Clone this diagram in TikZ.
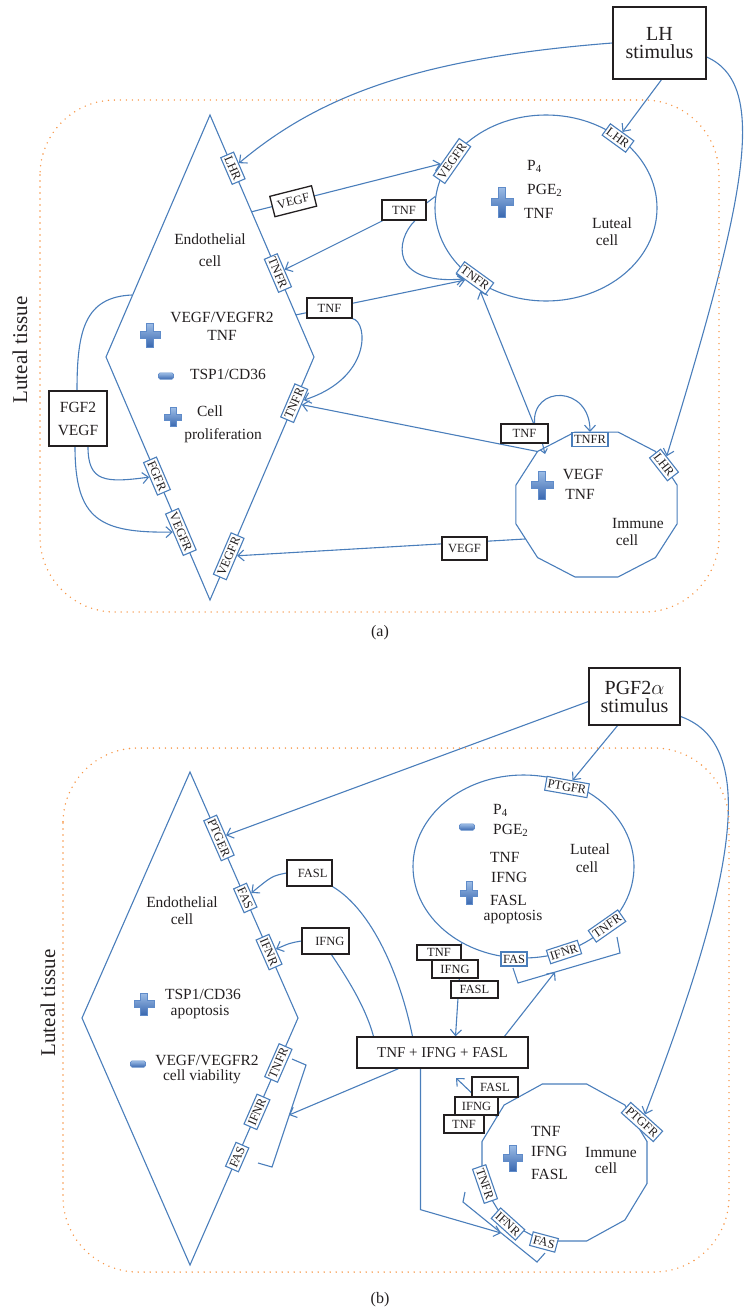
\documentclass[tikz,border=0pt]{standalone}
\usepackage{fontspec}
\setmainfont{Liberation Serif}
\usetikzlibrary{arrows.meta,shapes.geometric}
\pgfdeclarelayer{bg}
\pgfsetlayers{bg,main}
\definecolor{lblue}{HTML}{4A7EBB}
\definecolor{dotor}{HTML}{F79646}
\definecolor{sgtop}{HTML}{9DBDE6}
\definecolor{sgbot}{HTML}{3A68B0}
\definecolor{sgedge}{HTML}{5F8BC9}
\definecolor{ink}{HTML}{231F20}
\newcommand\recf{\fontsize{12.5}{13}\selectfont}
\newcommand\sigf{\fontsize{12.5}{14}\selectfont}
\newcommand\cellf{\fontsize{15.5}{18}\selectfont}
\newcommand\stimf{\fontsize{20}{18}\selectfont}
\newcommand\tissf{\fontsize{21}{22}\selectfont}
\tikzset{
  cellline/.style={draw=lblue, line width=1.1pt},
  conn/.style={draw=lblue, line width=1.1pt},
  arr/.style={conn, -{Straight Barb[length=6pt,width=11pt]}},
  rec/.style={draw=lblue, fill=white, line width=1.1pt, font=\recf, text=ink, inner xsep=2pt, inner ysep=1pt, minimum height=14pt},
  sig/.style={draw=ink, fill=white, line width=1.3pt, font=\sigf, text=ink, inner xsep=4pt, inner ysep=0pt},
  txt/.style={font=\cellf, text=ink, inner sep=0pt, text height=1.5ex, text depth=0.3ex},
  tisstxt/.style={font=\tissf, text=ink, rotate=90},
  tissue/.style={dotor, line width=1.6pt, line cap=round, dash pattern=on 0pt off 6pt, rounded corners=75pt},
  pics/pluspic/.style args={#1/#2}{code={
    \pgfmathsetmacro\plw{#1/2}\pgfmathsetmacro\plh{#2/2}\pgfmathsetmacro\plt{#1*0.17}
    \shadedraw[top color=sgtop, bottom color=sgbot, draw=sgedge, line width=0.6pt]
      (-\plt,-\plh) -- (\plt,-\plh) -- (\plt,-\plt) -- (\plw,-\plt) -- (\plw,\plt) -- (\plt,\plt) -- (\plt,\plh) -- (-\plt,\plh) -- (-\plt,\plt) -- (-\plw,\plt) -- (-\plw,-\plt) -- (-\plt,-\plt) -- cycle;
  }},
  pics/minuspic/.style={code={
    \shadedraw[top color=sgtop, bottom color=sgbot, draw=sgedge, line width=0.6pt, rounded corners=1.5pt] (-7.5,-3.2) rectangle (7.5,3.2);
  }},
}
\begin{document}
\begin{tikzpicture}[x=1pt,y=-1pt]
\path[use as bounding box] (0,0) rectangle (747,1314);

%%%%%%%%%%%%%%%% PANEL (a)
\draw[tissue] (40,100) rectangle (719,612);
\node[tisstxt] (atiss) at (20,350) {Luteal tissue};

% endothelial cell
\coordinate (aeT) at (210,115);
\coordinate (aeR) at (314,357);
\coordinate (aeB) at (210,600);
\coordinate (aeL) at (106,357);
\coordinate (aeFs) at (132,295);
\draw[cellline] (aeT) -- (aeR)
  coordinate[pos=0.40] (aeVs) coordinate[pos=0.826] (aeTs)
  node[rec,sloped,pos=0.22] (aeLHR) {LHR}
  node[rec,sloped,pos=0.653] (aeTNFR1) {TNFR}
  -- (aeB)
  node[rec,sloped,pos=0.19] (aeTNFR2) {TNFR}
  node[rec,sloped,pos=0.82] (aeVEGFR2) {VEGFR}
  -- (aeL)
  node[rec,sloped,pos=0.51] (aeFGFR) {FGFR}
  node[rec,sloped,pos=0.28] (aeVEGFR1) {VEGFR}
  -- cycle;
\node[txt] (aeN1) at (210,242) {Endothelial};
\node[txt] (aeN2) at (210,264) {cell};
\pic at (150,335) {pluspic=20/24};
\node[txt] (aeP1) at (222,320) {VEGF/VEGFR2};
\node[txt] (aeP2) at (222,338) {TNF};
\pic at (166,376) {minuspic};
\node[txt] (aeM1) at (228,377) {TSP1/CD36};
\pic at (173,417) {pluspic=17/19};
\node[txt] (aeC1) at (210,414) {Cell};
\node[txt] (aeC2) at (223,437) {proliferation};

% luteal cell
\node[ellipse, cellline, minimum width=222pt, minimum height=186pt, inner sep=0pt] (alut) at (546,208) {};
\node[rec,rotate=55] (alVEGFR) at (452,161) {VEGFR};
\node[rec,rotate=-36] (alLHR) at (618,138) {LHR};
\node[rec,rotate=-36] (alTNFR) at (475,278) {TNFR};
\pic at (502,202) {pluspic=22/30};
\node[txt, anchor=west] (alP4) at (527,168) {P\textsubscript{4}};
\node[txt, anchor=west] (alPG) at (527,192) {PGE\textsubscript{2}};
\node[txt, anchor=west] (alTN) at (524,216) {TNF};
\node[txt] (alN1) at (612,226) {Luteal};
\node[txt] (alN2) at (607,243) {cell};

% immune cell
\draw[cellline] (596.5,504.5) +(-15:83.4 and 75) \foreach \a in {45,75,...,345}{ -- +(-\a:83.4 and 75)} -- cycle;
\coordinate (aiC) at (537.5,451.5);
\coordinate (aiVs) at (525,539);
\coordinate (aiTip) at (545,454);
\node[rec] (aiTNFR) at (590,439.5) {TNFR};
\node[rec,rotate=-52] (aiLHR) at (664,465) {LHR};
\pic at (542,485) {pluspic=22/28};
\node[txt] (aiV) at (583,477) {VEGF};
\node[txt] (aiT) at (580,497) {TNF};
\node[txt] (aiN1) at (638,526) {Immune};
\node[txt] (aiN2) at (627,543) {cell};

% signal boxes
\node[sig, minimum width=93pt, minimum height=72pt, font=\stimf, align=center] (alh) at (659.5,43) {LH\\stimulus};
\node[sig, minimum width=44pt, minimum height=20pt] (atnf1) at (404,210) {TNF};
\node[sig, minimum width=45pt, minimum height=20pt] (atnf2) at (329.5,308) {TNF};
\node[sig, minimum width=47pt, minimum height=19pt] (atnf3) at (524.5,433.5) {TNF};
\node[sig, minimum width=45pt, minimum height=23pt] (avegf2) at (464.5,548.5) {VEGF};
\node[sig, minimum width=58pt, minimum height=55pt, align=center, font=\cellf] (afgf) at (78,418.5) {FGF2\\[5pt]VEGF};

\begin{pgfonlayer}{bg}
\draw[arr] (alh.west) .. controls (420,58) and (320,95) .. (aeLHR);
\draw[arr] ([xshift=2pt]alh.south) -- (alLHR);
\draw[arr] ([yshift=-14pt]alh.east) .. controls (770,85) and (745,200) .. (aiLHR);
\draw[arr] (aeVs) -- node[sig, sloped, pos=0.22, minimum width=43pt, minimum height=21pt] (avegf1) {VEGF} (alVEGFR);
\draw[conn] ([yshift=7pt]atnf1.east) -- (alut.174);
\draw[arr] (atnf1) -- (aeTNFR1);
\draw[arr] ([xshift=11pt]atnf1.south) .. controls (395,240) and (390,285) .. (alTNFR);
\draw[conn] (aeTs) -- (atnf2);
\draw[arr] (atnf2) -- (alTNFR);
\draw[arr] (atnf2.south east) .. controls (368,322) and (372,378) .. (aeTNFR2);
\draw[arr] ([xshift=9pt]atnf3.north) -- (alTNFR);
\draw[arr] ([xshift=10pt]atnf3.north) .. controls (532,385) and (590,385) .. (aiTNFR);
\draw[conn, -{Straight Barb[length=4pt,width=7pt]}] ([xshift=18pt]atnf3.south) -- (aiTip);
\draw[arr] (aiC) -- (aeTNFR2);
\draw[arr] (aiVs) -- (aeVEGFR2);
\draw[conn] (aeFs) .. controls (85,297) and (77,330) .. ([xshift=-1pt]afgf.north);
\draw[arr] ([xshift=10pt]afgf.south) .. controls (88,482) and (105,483) .. (aeFGFR);
\draw[arr] ([xshift=-3pt]afgf.south) .. controls (75,520) and (100,533) .. (aeVEGFR1);
\end{pgfonlayer}

\node[font=\fontsize{16}{18}\selectfont, text=ink] (alab) at (380,633) {(a)};

%%%%%%%%%%%%%%%% PANEL (b)
\draw[tissue] (63,748) rectangle (729,1272);
\node[tisstxt] (btiss) at (48,1003) {Luteal tissue};

% endothelial cell
\coordinate (beT) at (190,772);
\coordinate (beR) at (298,1018);
\coordinate (beB) at (190,1265);
\coordinate (beL) at (82,1018);
\draw[cellline] (beT) -- (beR)
  node[rec,sloped,pos=0.268] (bePTGER) {PTGER}
  node[rec,sloped,pos=0.512] (beFAS1) {FAS}
  node[rec,sloped,pos=0.732] (beIFNR1) {IFNR}
  -- (beB)
  node[rec,sloped,pos=0.182] (beTNFR) {TNFR}
  node[rec,sloped,pos=0.38] (beIFNR2) {IFNR}
  node[rec,sloped,pos=0.563] (beFAS2) {FAS}
  -- (beL) -- cycle;
\draw[conn] (292,1059) -- (306,1065) -- (272,1167) -- (258,1163);
\coordinate (bebr) at (289,1115);
\node[txt] (beN1) at (182,905) {Endothelial};
\node[txt] (beN2) at (182,922) {cell};
\pic at (144,1004) {pluspic=20/22};
\node[txt] (beP1) at (203,997) {TSP1/CD36};
\node[txt] (beP2) at (200,1013) {apoptosis};
\pic at (138,1064) {minuspic};
\node[txt] (beM1) at (207,1063) {VEGF/VEGFR2};
\node[txt] (beM2) at (202,1078) {cell viability};

% luteal cell
\node[ellipse, cellline, minimum width=221pt, minimum height=183pt, inner sep=0pt] (blut) at (523.5,866.5) {};
\node[rec,rotate=-10] (blPTGFR) at (567,787) {PTGFR};
\node[rec] (blFAS) at (514,959) {FAS};
\node[rec,rotate=18] (blIFNR) at (564,952) {IFNR};
\node[rec,rotate=35] (blTNFR) at (607,926) {TNFR};
\draw[conn] (513,968) -- (518,983) -- (620,953) -- (617,937);
\coordinate (blbr) at (555,972);
\pic at (467,827) {minuspic};
\node[txt, anchor=west] (blP4) at (493,812) {P\textsubscript{4}};
\node[txt, anchor=west] (blPG) at (493,832) {PGE\textsubscript{2}};
\node[txt, anchor=west] (blT) at (490,860) {TNF};
\node[txt, anchor=west] (blI) at (491,880) {IFNG};
\pic at (469,893) {pluspic=17/23};
\node[txt, anchor=west] (blF) at (490,903) {FASL};
\node[txt] (blA) at (513,918) {apoptosis};
\node[txt] (blN1) at (590,852) {Luteal};
\node[txt] (blN2) at (587,870) {cell};

% immune cell
\draw[cellline] (564.5,1162.5) +(-15:85.4 and 81.3) \foreach \a in {45,75,...,345}{ -- +(-\a:85.4 and 81.3)} -- cycle;
\node[rec,rotate=-42] (biPTGFR) at (642,1122) {PTGFR};
\node[rec,rotate=-71] (biTNFR) at (485,1184) {TNFR};
\node[rec,rotate=-42] (biIFNR) at (508,1224) {IFNR};
\node[rec,rotate=-15] (biFAS) at (544,1242) {FAS};
\draw[conn] (465,1192) -- (463,1202) -- (537,1262) -- (545,1253);
\coordinate (bibr) at (501,1233);
\coordinate (biS) at (497,1117);
\coordinate (bipt) at (456,1078);
\pic at (513,1158) {pluspic=19/26};
\node[txt, anchor=west] (biT) at (531,1134) {TNF};
\node[txt, anchor=west] (biI) at (531,1154) {IFNG};
\node[txt, anchor=west] (biF) at (531,1177) {FASL};
\node[txt] (biN1) at (611,1155) {Immune};
\node[txt] (biN2) at (606,1171) {cell};

% signal boxes
\node[sig, minimum width=91pt, minimum height=57pt, font=\stimf, align=center] (bpgf) at (634.5,696.5) {PGF2$\alpha$\\stimulus};
\node[sig, minimum width=45pt, minimum height=26pt, text width=36pt, align=right] (bfasl) at (309.5,873) {FASL};
\node[sig, minimum width=47pt, minimum height=26pt, text width=38pt, align=right] (bifng) at (325.5,941) {IFNG};
\node[sig, minimum width=171pt, minimum height=31pt, font=\fontsize{15}{17}\selectfont] (pool) at (442.5,1052.5) {TNF + IFNG + FASL};
\node[sig, minimum width=44pt, minimum height=15pt] (blTNFb) at (439,952.5) {TNF};
\node[sig, minimum width=46pt, minimum height=18pt] (blIFNGb) at (455,969) {IFNG};
\node[sig, minimum width=47pt, minimum height=17pt] (blFASLb) at (474.5,989.5) {FASL};
\node[sig, minimum width=46pt, minimum height=20pt] (biFASLb) at (495,1087) {FASL};
\node[sig, minimum width=43pt, minimum height=18pt] (biIFNGb) at (476.5,1106) {IFNG};
\node[sig, minimum width=40pt, minimum height=18pt] (biTNFb) at (464,1124) {TNF};

\begin{pgfonlayer}{bg}
\draw[arr] ([xshift=-17pt]bpgf.south) -- (blPTGFR);
\draw[arr] ([yshift=-5pt]bpgf.west) -- (bePTGER);
\draw[arr] ([yshift=-20pt]bpgf.east) .. controls (760,745) and (735,880) .. (biPTGFR);
\draw[arr] (bfasl.west) .. controls (272,876) .. (beFAS1);
\draw[arr] (bifng.west) .. controls (290,943) .. (beIFNR1);
\draw[conn] (bfasl.south east) .. controls (372,910) and (400,975) .. ([xshift=-30pt]pool.north);
\draw[conn] ([xshift=6pt]bifng.south) .. controls (345,975) and (365,1005) .. ([xshift=-69pt]pool.north);
\draw[arr] ([xshift=-44pt]pool.south) -- (bebr);
\draw[arr] ([xshift=62pt]pool.north) -- (blbr);
\draw[arr] (blut.231) -- ([xshift=13pt]pool.north);
\draw[arr] (biS) -- (bipt);
\draw[arr] ([xshift=-22pt]pool.south) -- ++(0,141) -- (bibr);
\end{pgfonlayer}

\node[font=\fontsize{16}{18}\selectfont, text=ink] (blab) at (380,1300) {(b)};
\end{tikzpicture}
\end{document}
